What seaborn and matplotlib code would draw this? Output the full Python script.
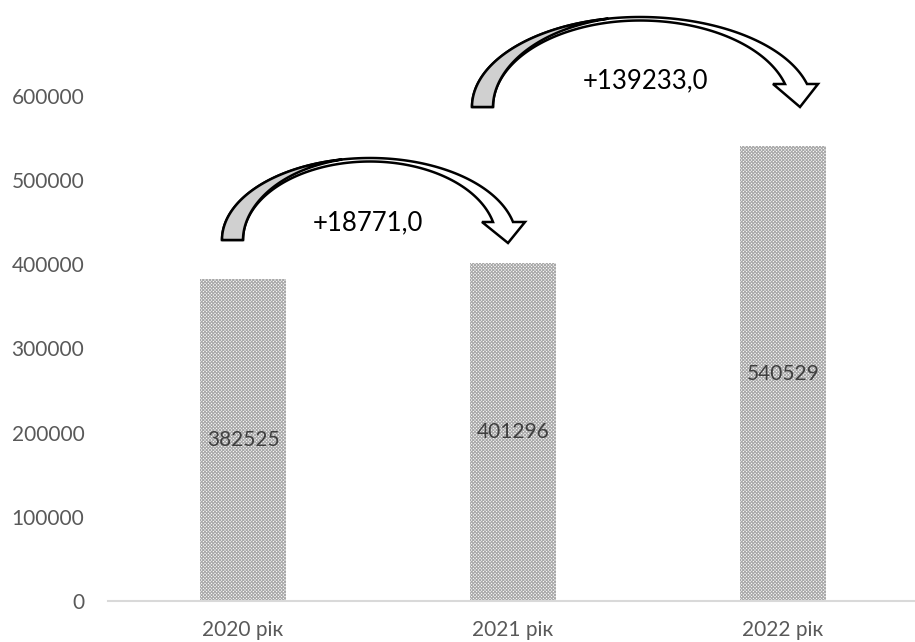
import numpy as np
import pandas as pd
import matplotlib
matplotlib.use("Agg")
import matplotlib.pyplot as plt
import seaborn as sns
from matplotlib.patches import Polygon
from matplotlib.transforms import Affine2D
from matplotlib.ticker import FuncFormatter

years = ["2020 рік", "2021 рік", "2022 рік"]
values = [382525, 401296, 540529]
yticks = [0, 100000, 200000, 300000, 400000, 500000, 600000]

W, H = 915, 642
sns.set_theme(style="white")
plt.rcParams["font.family"] = ["Lato", "DejaVu Sans"]
plt.rcParams["hatch.color"] = "#a8a8a8"
plt.rcParams["hatch.linewidth"] = 0.75

fig = plt.figure(figsize=(W / 100, H / 100), dpi=100)
ax = fig.add_axes([108 / W, (H - 601) / H, 810 / W, (601 - 96) / H])

df = pd.DataFrame({"year": years, "value": values})
sns.barplot(data=df, x="year", y="value", ax=ax, width=0.315,
            color="white", saturation=1)
for p in ax.patches:
    p.set_facecolor("white")
    p.set_edgecolor("#a8a8a8")
    p.set_linewidth(0)
    p.set_hatch("xxxxxxxxxx")

ax.bar_label(ax.containers[0], labels=[str(v) for v in values],
             label_type="center", fontsize=15, color="#404040")

ax.set_xlim(-0.5, 2.5)
ax.set_ylim(0, 600000)
ax.set_yticks(yticks)
ax.yaxis.set_major_formatter(FuncFormatter(lambda v, _: f"{int(v)}"))
ax.set_xlabel("")
ax.set_ylabel("")
ax.tick_params(axis="y", length=0, pad=17, labelsize=15, labelcolor="#595959")
ax.tick_params(axis="x", length=0, pad=14, labelsize=15, labelcolor="#595959")
for s in ["top", "right", "left"]:
    ax.spines[s].set_visible(False)
ax.spines["bottom"].set_color("#d9d9d9")
ax.spines["bottom"].set_linewidth(1.5)
ax.grid(False)

# pixel coordinates (origin top-left) for the decorative curved arrows
pix = Affine2D().scale(1 / W, -1 / H).translate(0, 1) + fig.transFigure


def ell(cx, cy, rx, ry, t):
    t = np.radians(t)
    return np.column_stack([cx + rx * np.cos(t), cy - ry * np.sin(t)])


def curved_arrow(x_out, x_in, yb, xt, yt, yh, band_out, band_in,
                 head_l, head_r, tip):
    ry = yb - yt
    ry_in = ry - 3.5
    a_out = np.degrees(np.arcsin((yb - yh) / ry))
    rx_out_r = (band_out - xt) / np.cos(np.radians(a_out))
    a_in = np.degrees(np.arcsin((yb - yh) / ry_in))
    rx_in_r = (band_in - xt) / np.cos(np.radians(a_in))
    rx_out_l = xt - x_out
    rx_in_l = xt - x_in

    outer = np.vstack([ell(xt, yb, rx_out_l, ry, np.linspace(180, 90, 60)),
                       ell(xt, yb, rx_out_r, ry, np.linspace(90, a_out, 60))])
    inner = np.vstack([ell(xt, yb, rx_in_l, ry_in, np.linspace(180, 90, 60)),
                       ell(xt, yb, rx_in_r, ry_in, np.linspace(90, a_in, 60))])
    band = np.vstack([outer, [[head_r, yh], tip, [head_l, yh]], inner[::-1]])
    fig.add_artist(Polygon(band, closed=True, transform=pix,
                           facecolor="white", edgecolor="black",
                           linewidth=1.8, joinstyle="miter"))

    # shaded inside of the rising part, folding into the outer edge
    t_end = 101
    t = np.linspace(180, t_end, 80)
    o = ell(xt, yb, rx_out_l, ry, t)
    i = ell(xt, yb, rx_in_l, ry_in, t)
    w = ((180 - t) / (180 - t_end))[:, None] ** 3
    fold = i + w * (o - i)
    wedge = np.vstack([o, fold[::-1]])
    fig.add_artist(Polygon(wedge, closed=True, transform=pix,
                           facecolor="#d0d0d0", edgecolor="black",
                           linewidth=1.8, joinstyle="round"))


curved_arrow(222, 243, 240, 370, 158, 222, 513, 493, 482, 525, (508, 243))
curved_arrow(472, 493, 107, 640, 17, 84, 807, 785, 773, 818, (800, 107))

diffs = [values[i + 1] - values[i] for i in range(len(values) - 1)]
label_pos = [(368, 223), (646, 81)]
for d, (x, y) in zip(diffs, label_pos):
    fig.text(x / W, 1 - y / H, f"+{d:.1f}".replace(".", ","),
             ha="center", va="center", fontsize=18.5, color="black")

fig.savefig("out.png", dpi=100)
